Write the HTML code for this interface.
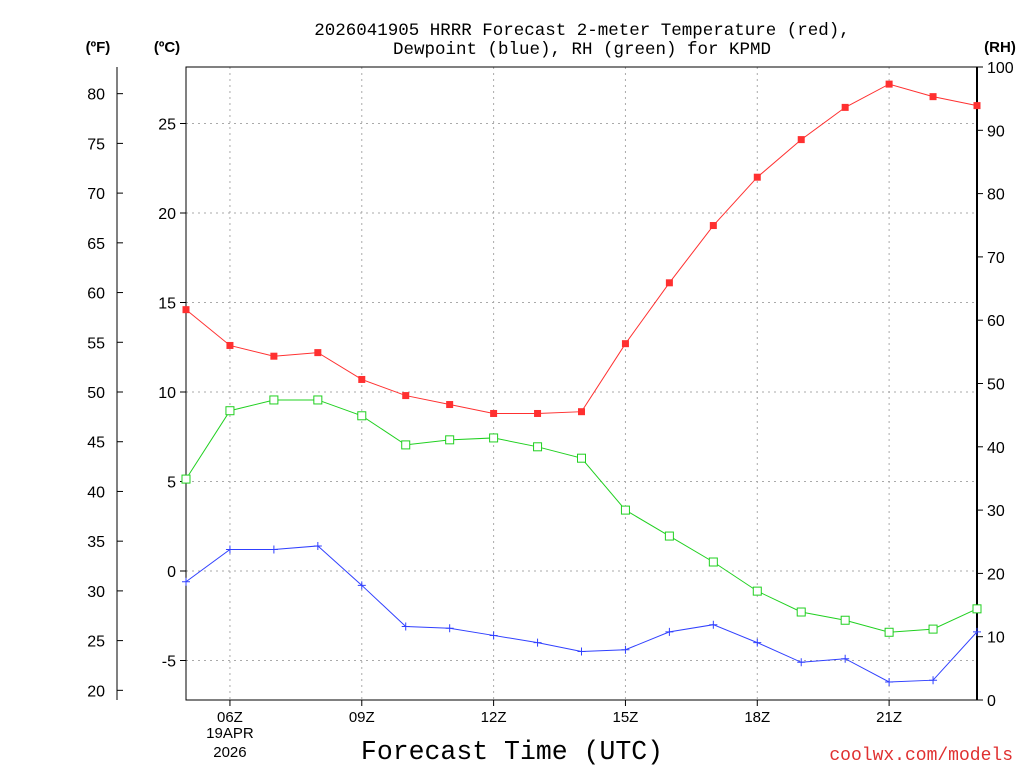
<!DOCTYPE html>
<html><head><meta charset="utf-8"><style>
body{margin:0;background:#fff;width:1024px;height:768px;overflow:hidden}
svg{font-family:"Liberation Sans",sans-serif}
.mono{font-family:"Liberation Mono",monospace}
</style></head><body>
<svg id="chart" width="1024" height="768">
<text class="mono" x="582" y="35" text-anchor="middle" font-size="17.5">2026041905 HRRR Forecast 2-meter Temperature (red),</text>
<text class="mono" x="582" y="54" text-anchor="middle" font-size="17.5">Dewpoint (blue), RH (green) for KPMD</text>
<text x="98" y="52" text-anchor="middle" font-size="15" font-weight="bold">(ºF)</text>
<text x="167" y="52" text-anchor="middle" font-size="15" font-weight="bold">(ºC)</text>
<text x="1000" y="52" text-anchor="middle" font-size="15" font-weight="bold">(RH)</text>
<text class="mono" x="512" y="759" text-anchor="middle" font-size="26.5">Forecast Time (UTC)</text>
<text class="mono" x="1013" y="760" text-anchor="end" font-size="18" fill="#e03030">coolwx.com/models</text>
<g id="grid"></g><g id="axes"></g><g id="series"></g>
</svg>
<script>
const hours=[5,6,7,8,9,10,11,12,13,14,15,16,17,18,19,20,21,22,23];
const tempC=[14.6,12.6,12.0,12.2,10.7,9.8,9.3,8.8,8.8,8.9,12.7,16.1,19.3,22.0,24.1,25.9,27.2,26.5,26.0];
const dewC=[-0.6,1.2,1.2,1.4,-0.8,-3.1,-3.2,-3.6,-4.0,-4.5,-4.4,-3.4,-3.0,-4.0,-5.1,-4.9,-6.2,-6.1,-3.4];
const rh=[34.9,45.7,47.4,47.4,44.9,40.3,41.1,41.4,40.0,38.2,30.0,25.9,21.8,17.2,13.9,12.6,10.7,11.2,14.4];
const cTicks=[-5,0,5,10,15,20,25];
const fTicks=[20,25,30,35,40,45,50,55,60,65,70,75,80];
const rhTicks=[0,10,20,30,40,50,60,70,80,90,100];
const xTickHours=[6,9,12,15,18,21];
const xTickLabels=["06Z","09Z","12Z","15Z","18Z","21Z"];

const L=186,R=977,T=67,B=700;
const xs=h=>L+(h-5)*(R-L)/18;
const yc=c=>571-c*17.9;
const yf=f=>yc((f-32)*5/9);
const yr=v=>B-v*(B-T)/100;
const NS="http://www.w3.org/2000/svg";
function mk(tag,attrs,parent,text){const e=document.createElementNS(NS,tag);for(const k in attrs)e.setAttribute(k,attrs[k]);if(text!==undefined)e.textContent=text;parent.appendChild(e);return e;}
const grid=document.getElementById('grid'),axes=document.getElementById('axes'),ser=document.getElementById('series');
xTickHours.forEach((h,i)=>{
  const g=mk('line',{x1:xs(h),x2:xs(h),y1:T,y2:B,stroke:'#aaa','stroke-dasharray':'2,4'},grid);
  
  mk('line',{x1:xs(h),x2:xs(h),y1:B,y2:B+6,stroke:'#000'},axes);
  const t=mk('text',{x:xs(h),y:B+22,'text-anchor':'middle','font-size':'15'},axes,xTickLabels[i]);
  
});
[["19APR",738],["2026",757]].forEach(([s,y])=>{const t=mk('text',{x:xs(6),y:y,'text-anchor':'middle','font-size':'15'},axes,s);
});
cTicks.forEach(c=>{
  const g=mk('line',{x1:L,x2:R,y1:yc(c),y2:yc(c),stroke:'#aaa','stroke-dasharray':'2,4'},grid);
  
  mk('line',{x1:L-6,x2:L,y1:yc(c),y2:yc(c),stroke:'#000'},axes);
  const t=mk('text',{x:L-10,y:yc(c)+6,'text-anchor':'end','font-size':'16'},axes,String(c));
  
});
fTicks.forEach(f=>{
  mk('line',{x1:117,x2:123,y1:yf(f),y2:yf(f),stroke:'#000'},axes);
  const t=mk('text',{x:105,y:yf(f)+6,'text-anchor':'end','font-size':'16'},axes,String(f));
  
});
rhTicks.forEach(v=>{
  mk('line',{x1:R,x2:R+6,y1:yr(v),y2:yr(v),stroke:'#000'},axes);
  const t=mk('text',{x:R+10,y:yr(v)+6,'font-size':'16'},axes,String(v));
  
});
mk('line',{x1:117,x2:117,y1:T,y2:B},axes).setAttribute('stroke','#000');
mk('rect',{x:L,y:T,width:R-L,height:B-T,fill:'none',stroke:'#000','stroke-width':1},axes);
mk('line',{x1:R,x2:R,y1:T,y2:B,stroke:'#000','stroke-width':2},axes);
function line(vals,yfn,col,name){
  const p=mk('polyline',{points:vals.map((v,i)=>xs(hours[i])+','+yfn(v)).join(' '),fill:'none',stroke:col,'stroke-width':1},ser);
  
}
line(tempC,yc,'#ff3030','temperature-line');
line(dewC,yc,'#3040ff','dewpoint-line');
line(rh,yr,'#20d020','rh-line');
tempC.forEach((v,i)=>{const m=mk('rect',{x:xs(hours[i])-3.5,y:yc(v)-3.5,width:7,height:7,fill:'#ff3030'},ser);
});
rh.forEach((v,i)=>{const m=mk('rect',{x:xs(hours[i])-4,y:yr(v)-4,width:8,height:8,fill:'#fff',stroke:'#20d020'},ser);
});
dewC.forEach((v,i)=>{const x=xs(hours[i]),y=yc(v);
const m=mk('path',{d:`M${x-4},${y}H${x+4}M${x},${y-4}V${y+4}`,stroke:'#3040ff'},ser);
});
</script>
</body></html>
